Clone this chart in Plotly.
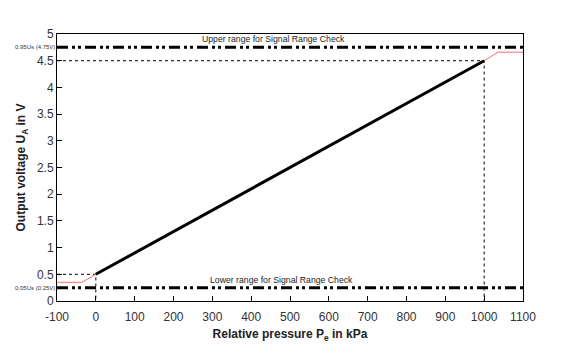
import plotly.graph_objects as go

# Data
main_x = [0, 1000]
main_y = [0.5, 4.5]
low_clamp_x = [-100, -36, 0]
low_clamp_y = [0.35, 0.35, 0.5]
high_clamp_x = [1000, 1036, 1100]
high_clamp_y = [4.5, 4.66, 4.66]
upper_limit = 4.75
lower_limit = 0.25
x_range = [-100, 1100]
y_range = [0, 5]
x_ticks = [-100, 0, 100, 200, 300, 400, 500, 600, 700, 800, 900, 1000, 1100]
x_ticklabels = ["-100", "0", "100", "200", "300", "400", "500", "600", "700", "800", "900", "1000", "1100"]
y_ticks = [0, 0.5, 1, 1.5, 2, 2.5, 3, 3.5, 4, 4.5, 5]
y_ticklabels = ["0", "0.5", "1", "1.5", "2", "2.5", "3", "3.5", "4", "4.5", "5"]

fig = go.Figure()

dashdot = "11px,4px,3px,3px,3px,4px"
fig.add_trace(go.Scatter(x=x_range, y=[upper_limit, upper_limit], mode="lines",
                         line=dict(color="black", width=3, dash=dashdot), showlegend=False))
fig.add_trace(go.Scatter(x=x_range, y=[lower_limit, lower_limit], mode="lines",
                         line=dict(color="black", width=3, dash=dashdot), showlegend=False))

# dotted guides
dot = dict(color="black", width=1, dash="dot")
fig.add_trace(go.Scatter(x=[x_range[0], main_x[1], main_x[1]], y=[main_y[1], main_y[1], y_range[0]],
                         mode="lines", line=dot, showlegend=False))
fig.add_trace(go.Scatter(x=[x_range[0], main_x[0], main_x[0]], y=[main_y[0], main_y[0], y_range[0]],
                         mode="lines", line=dot, showlegend=False))

fig.add_trace(go.Scatter(x=low_clamp_x, y=low_clamp_y, mode="lines",
                         line=dict(color="#f07070", width=1), showlegend=False))
fig.add_trace(go.Scatter(x=high_clamp_x, y=high_clamp_y, mode="lines",
                         line=dict(color="#f07070", width=1), showlegend=False))
fig.add_trace(go.Scatter(x=main_x, y=main_y, mode="lines",
                         line=dict(color="black", width=3), showlegend=False))

fig.add_annotation(x=457, y=upper_limit, yshift=8, text="Upper range for Signal Range Check",
                   showarrow=False, font=dict(size=8.7, color="#222"))
fig.add_annotation(x=478, y=lower_limit, yshift=8, text="Lower range for Signal Range Check",
                   showarrow=False, font=dict(size=8.7, color="#222"))
fig.add_annotation(x=0, xref="paper", y=upper_limit, xanchor="right", xshift=0,
                   text="0.95Us (4.75V)", showarrow=False, font=dict(size=6, color="#333"))
fig.add_annotation(x=0, xref="paper", y=lower_limit, xanchor="right", xshift=0,
                   text="0.05Us (0.25V)", showarrow=False, font=dict(size=6, color="#333"))

fig.update_layout(
    width=570, height=353,
    margin=dict(l=57, r=47, t=34, b=52),
    plot_bgcolor="white", paper_bgcolor="white",
    font=dict(family="Liberation Sans, Arial, sans-serif", size=12, color="#333"),
    xaxis=dict(range=x_range, tickvals=x_ticks, ticktext=x_ticklabels, showgrid=False, zeroline=False,
               showline=True, linecolor="black", linewidth=1, mirror=True,
               ticks="inside", ticklen=5, tickcolor="black", ticklabelstandoff=5,
               title=dict(text="<b>Relative pressure P<sub>e</sub> in kPa</b>", standoff=6,
                          font=dict(size=12, color="#222"))),
    yaxis=dict(range=y_range, tickvals=y_ticks, ticktext=y_ticklabels, showgrid=False, zeroline=False,
               showline=True, linecolor="black", linewidth=1, mirror=True,
               ticks="inside", ticklen=5, tickcolor="black",
               title=dict(text="<b>Output voltage U<sub>A</sub> in V</b>", standoff=8,
                          font=dict(size=12, color="#222"))),
)

fig.write_html("out.html")
